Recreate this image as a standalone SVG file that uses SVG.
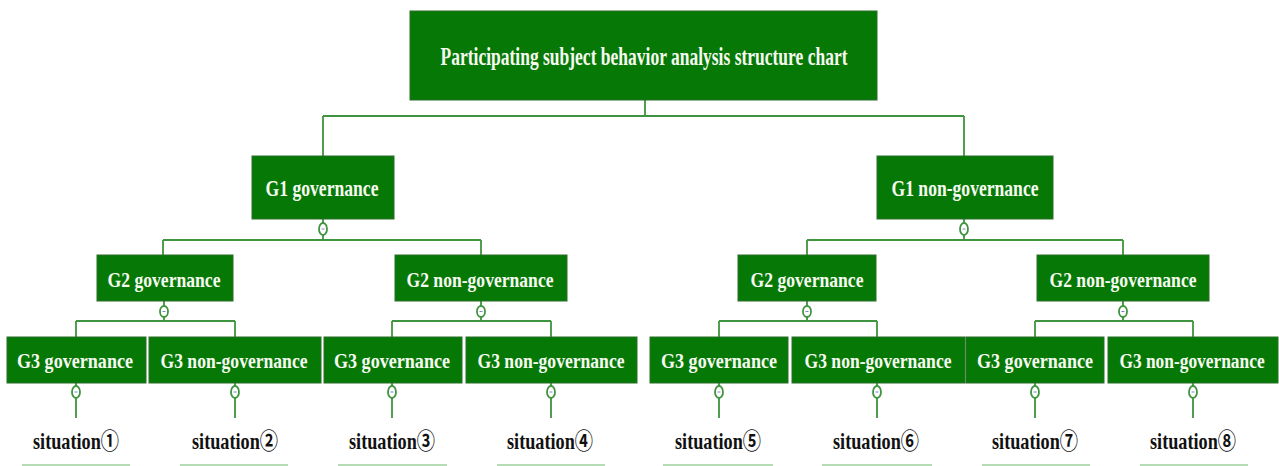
<svg xmlns="http://www.w3.org/2000/svg" width="1279" height="466" viewBox="0 0 1279 466">
<style>
.box{fill:#067806;stroke:#2a6e2a;stroke-width:1}
.lbl{fill:#f6fbf0;font-family:"Liberation Serif","Times New Roman",serif;font-weight:bold;text-anchor:middle}
.sit{fill:#111111;font-family:"Liberation Serif","DejaVu Serif","Noto Sans CJK SC",serif;font-weight:bold;font-size:23px;text-anchor:middle}
.ln{stroke:#3f943f;stroke-width:1.8;fill:none}
.knob{fill:#ffffff;stroke:#3f943f;stroke-width:1.8}
.dash{stroke:#7a86c8;stroke-width:1}
.base{stroke:#b6dcb6;stroke-width:2}
</style>
<rect width="1279" height="466" fill="#ffffff"/>
<g id="connectors">
<path class="ln" d="M645,100V116M323,116H964M323,116V156M964,116V156"/>
<path class="ln" d="M323,219V223M323,235V240M163,240H481M163,240V255M481,240V255"/>
<path class="ln" d="M964,219V223M964,235V240M807,240H1123M807,240V255M1123,240V255"/>
<path class="ln" d="M164,301V306M164,317V321M76,321H235M76,321V337M235,321V337"/>
<path class="ln" d="M481,301V306M481,317V321M392,321H551M392,321V337M551,321V337"/>
<path class="ln" d="M807,301V306M807,317V321M719,321H877M719,321V337M877,321V337"/>
<path class="ln" d="M1123,301V306M1123,317V321M1035,321H1193M1035,321V337M1193,321V337"/>
<path class="ln" d="M76,383V386M76,398V418M235,383V386M235,398V418M392,383V386M392,398V418M551,383V386M551,398V418M719,383V386M719,398V418M877,383V386M877,398V418M1035,383V386M1035,398V418M1193,383V386M1193,398V418"/>
<g>
<ellipse class="knob" cx="323" cy="229" rx="4" ry="6"/><line class="dash" x1="321.5" y1="229" x2="324.5" y2="229"/>
<ellipse class="knob" cx="964" cy="229" rx="4" ry="6"/><line class="dash" x1="962.5" y1="229" x2="965.5" y2="229"/>
<ellipse class="knob" cx="164" cy="311.5" rx="4" ry="5.5"/><line class="dash" x1="162.5" y1="311.5" x2="165.5" y2="311.5"/>
<ellipse class="knob" cx="481" cy="311.5" rx="4" ry="5.5"/><line class="dash" x1="479.5" y1="311.5" x2="482.5" y2="311.5"/>
<ellipse class="knob" cx="807" cy="311.5" rx="4" ry="5.5"/><line class="dash" x1="805.5" y1="311.5" x2="808.5" y2="311.5"/>
<ellipse class="knob" cx="1123" cy="311.5" rx="4" ry="5.5"/><line class="dash" x1="1121.5" y1="311.5" x2="1124.5" y2="311.5"/>
<ellipse class="knob" cx="76" cy="392" rx="4" ry="6"/><line class="dash" x1="74.5" y1="392" x2="77.5" y2="392"/>
<ellipse class="knob" cx="235" cy="392" rx="4" ry="6"/><line class="dash" x1="233.5" y1="392" x2="236.5" y2="392"/>
<ellipse class="knob" cx="392" cy="392" rx="4" ry="6"/><line class="dash" x1="390.5" y1="392" x2="393.5" y2="392"/>
<ellipse class="knob" cx="551" cy="392" rx="4" ry="6"/><line class="dash" x1="549.5" y1="392" x2="552.5" y2="392"/>
<ellipse class="knob" cx="719" cy="392" rx="4" ry="6"/><line class="dash" x1="717.5" y1="392" x2="720.5" y2="392"/>
<ellipse class="knob" cx="877" cy="392" rx="4" ry="6"/><line class="dash" x1="875.5" y1="392" x2="878.5" y2="392"/>
<ellipse class="knob" cx="1035" cy="392" rx="4" ry="6"/><line class="dash" x1="1033.5" y1="392" x2="1036.5" y2="392"/>
<ellipse class="knob" cx="1193" cy="392" rx="4" ry="6"/><line class="dash" x1="1191.5" y1="392" x2="1194.5" y2="392"/>
</g>
</g>
<g id="root"><rect class="box" x="410" y="11" width="467" height="89"/><text class="lbl" x="644" y="65" font-size="26" textLength="407" lengthAdjust="spacingAndGlyphs">Participating subject behavior analysis structure chart</text></g>
<g id="g1-gov"><rect class="box" x="252" y="156" width="142" height="63"/><text class="lbl" x="322" y="196" font-size="23" textLength="113" lengthAdjust="spacingAndGlyphs">G1 governance</text></g>
<g id="g1-non"><rect class="box" x="877" y="156" width="176" height="63"/><text class="lbl" x="965" y="196" font-size="23" textLength="147" lengthAdjust="spacingAndGlyphs">G1 non-governance</text></g>
<g id="g2-gov-a"><rect class="box" x="97" y="255" width="136" height="46"/><text class="lbl" x="164" y="287" font-size="22" textLength="113" lengthAdjust="spacingAndGlyphs">G2 governance</text></g>
<g id="g2-non-a"><rect class="box" x="395" y="255" width="172" height="46"/><text class="lbl" x="480" y="287" font-size="22" textLength="147" lengthAdjust="spacingAndGlyphs">G2 non-governance</text></g>
<g id="g2-gov-b"><rect class="box" x="738" y="255" width="138" height="46"/><text class="lbl" x="807" y="287" font-size="22" textLength="113" lengthAdjust="spacingAndGlyphs">G2 governance</text></g>
<g id="g2-non-b"><rect class="box" x="1037" y="255" width="172" height="46"/><text class="lbl" x="1123" y="287" font-size="22" textLength="147" lengthAdjust="spacingAndGlyphs">G2 non-governance</text></g>
<g id="g3-1"><rect class="box" x="7" y="337" width="139" height="46"/><text class="lbl" x="75" y="368" font-size="22" textLength="116" lengthAdjust="spacingAndGlyphs">G3 governance</text></g>
<g id="g3-2"><rect class="box" x="149" y="337" width="172" height="46"/><text class="lbl" x="234" y="368" font-size="22" textLength="147" lengthAdjust="spacingAndGlyphs">G3 non-governance</text></g>
<g id="g3-3"><rect class="box" x="324" y="337" width="138" height="46"/><text class="lbl" x="392" y="368" font-size="22" textLength="116" lengthAdjust="spacingAndGlyphs">G3 governance</text></g>
<g id="g3-4"><rect class="box" x="466" y="337" width="171" height="46"/><text class="lbl" x="551" y="368" font-size="22" textLength="147" lengthAdjust="spacingAndGlyphs">G3 non-governance</text></g>
<g id="g3-5"><rect class="box" x="650" y="337" width="138" height="46"/><text class="lbl" x="719" y="368" font-size="22" textLength="116" lengthAdjust="spacingAndGlyphs">G3 governance</text></g>
<g id="g3-6"><rect class="box" x="792" y="337" width="173" height="46"/><text class="lbl" x="878" y="368" font-size="22" textLength="147" lengthAdjust="spacingAndGlyphs">G3 non-governance</text></g>
<g id="g3-7"><rect class="box" x="966" y="337" width="138" height="46"/><text class="lbl" x="1035" y="368" font-size="22" textLength="116" lengthAdjust="spacingAndGlyphs">G3 governance</text></g>
<g id="g3-8"><rect class="box" x="1108" y="337" width="170" height="46"/><text class="lbl" transform="translate(1192,368) scale(0.79,1)" x="0" y="0" font-size="22">G3 non-governance</text></g>
<g id="s1"><text class="sit" x="76" y="449" textLength="86" lengthAdjust="spacingAndGlyphs">situation①</text><line class="base" x1="22" y1="465" x2="130" y2="465"/></g>
<g id="s2"><text class="sit" x="235" y="449" textLength="86" lengthAdjust="spacingAndGlyphs">situation②</text><line class="base" x1="180" y1="465" x2="288" y2="465"/></g>
<g id="s3"><text class="sit" x="392" y="449" textLength="86" lengthAdjust="spacingAndGlyphs">situation③</text><line class="base" x1="338" y1="465" x2="447" y2="465"/></g>
<g id="s4"><text class="sit" x="550" y="449" textLength="86" lengthAdjust="spacingAndGlyphs">situation④</text><line class="base" x1="497" y1="465" x2="605" y2="465"/></g>
<g id="s5"><text class="sit" x="718" y="449" textLength="86" lengthAdjust="spacingAndGlyphs">situation⑤</text><line class="base" x1="663" y1="465" x2="773" y2="465"/></g>
<g id="s6"><text class="sit" x="876" y="449" textLength="86" lengthAdjust="spacingAndGlyphs">situation⑥</text><line class="base" x1="822" y1="465" x2="932" y2="465"/></g>
<g id="s7"><text class="sit" x="1035" y="449" textLength="86" lengthAdjust="spacingAndGlyphs">situation⑦</text><line class="base" x1="982" y1="465" x2="1090" y2="465"/></g>
<g id="s8"><text class="sit" x="1193" y="449" textLength="86" lengthAdjust="spacingAndGlyphs">situation⑧</text><line class="base" x1="1140" y1="465" x2="1248" y2="465"/></g>
</svg>
